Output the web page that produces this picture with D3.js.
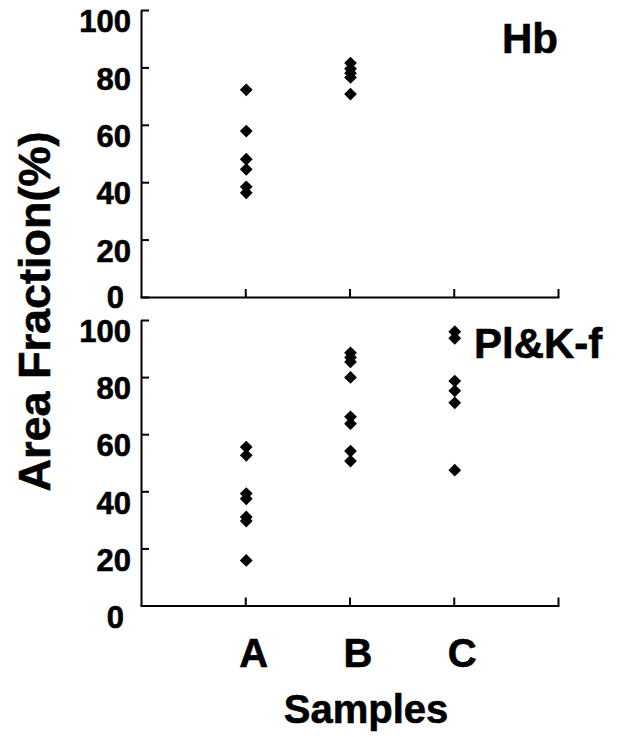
<!DOCTYPE html>
<html>
<head>
<meta charset="utf-8">
<script src="https://cdn.jsdelivr.net/npm/d3@7"></script>
<style>
	body { margin: 0; background: #fff; }
	svg { display: block; }
	.axis path, .axis line { stroke: #000; stroke-width: 2; }
	.axis text { font-family: "Liberation Sans", Arial, sans-serif; font-weight: bold; fill: #000; stroke: #000; stroke-width: 0.6; }
	.lbl { font-family: "Liberation Sans", Arial, sans-serif; font-weight: bold; fill: #000; stroke: #000; stroke-width: 0.6; }
</style>
</head>
<body>
<script>
//data (area fraction, %)
var categories = ["A", "B", "C"];
var yTicks = [0, 20, 40, 60, 80, 100];

//upper panel: Hb
var hbA = [72.2, 57.8, 48, 44.5, 38.4, 36.3];
var hbB = [81.5, 79.5, 78, 76.5, 70.7];
var hbC = [];

//lower panel: Pl&K-f
var pkA = [55.5, 52.6, 39.2, 37.4, 31, 29.6, 15.8];
var pkB = [88.5, 86.9, 85.3, 79.9, 66.1, 63.7, 54.1, 50.6];
var pkC = [95.9, 93.6, 78.6, 75.2, 71.0, 47.4];

(function(){

	var w = 620, h = 737;

	var svg = d3.select("body")
		.append("svg")
		.attr("width", w)
		.attr("height", h);

	//shared x scale: categories sit at 1,2,3 on a 0..4 axis
	var x = d3.scaleLinear()
		.domain([0, 4])
		.range([141, 558]);

	drawPanel([297, 10], [hbA, hbB, hbC], "Hb", [502, 52.7], false);
	drawPanel([605.5, 320], [pkA, pkB, pkC], "Pl&K-f", [474, 358.3], true);

	//axis titles
	svg.append("text")
		.attr("class", "lbl")
		.attr("transform", "translate(50,311.5) rotate(-90)")
		.attr("text-anchor", "middle")
		.style("font-size", "45px")
		.text("Area Fraction(%)");

	svg.append("text")
		.attr("class", "lbl")
		.attr("x", 366)
		.attr("y", 723)
		.attr("text-anchor", "middle")
		.style("font-size", "40px")
		.text("Samples");

	function drawPanel(yRange, series, name, namePos, isBottom) {
		var y = d3.scaleLinear()
			.domain([0, 100])
			.range(yRange);

		//y axis, ticks pointing inward
		var yAxis = svg.append("g")
			.attr("class", "axis")
			.attr("transform", "translate(" + x.range()[0] + ",0)")
			.call(d3.axisLeft(y)
				.tickValues(yTicks)
				.tickSize(-8)
				.tickSizeOuter(0)
				.tickPadding(10));

		yAxis.selectAll("text")
			.style("font-size", "31px")
			.attr("dy", function(d){
				if (d === 0 && !isBottom) return "0.33em"; //zero squeezed up against the lower panel
				return "0.7em";
			})
			.attr("dx", function(d){
				return d === 0 ? -7 : 0;
			});

		//x axis, ticks pointing up
		var xAxis = svg.append("g")
			.attr("class", "axis")
			.attr("transform", "translate(0," + yRange[0] + ")")
			.call(d3.axisBottom(x)
				.tickValues([1, 2, 3, 4])
				.tickSize(-8)
				.tickSizeOuter(0)
				.tickPadding(33)
				.tickFormat(function(d){
					return isBottom && d <= categories.length ? categories[d - 1] : "";
				}));

		xAxis.selectAll("text")
			.style("font-size", "40px")
			.attr("dx", 8);

		xAxis.select(".domain").attr("stroke-linecap", "square");

		//diamonds
		var pts = [];
		series.forEach(function(vals, i){
			vals.forEach(function(v){ pts.push({c: i + 1, v: v}); });
		});

		svg.append("g")
			.selectAll("path")
			.data(pts)
			.enter()
			.append("path")
			.attr("d", d3.symbol().type(d3.symbolSquare).size(82))
			.attr("transform", function(d){
				return "translate(" + (x(d.c) + 1) + "," + y(d.v) + ") rotate(45)";
			})
			.style("fill", "#000");

		//panel label
		svg.append("text")
			.attr("class", "lbl")
			.attr("x", namePos[0])
			.attr("y", namePos[1])
			.style("font-size", "42px")
			.text(name);
	};

})();
</script>
</body>
</html>
